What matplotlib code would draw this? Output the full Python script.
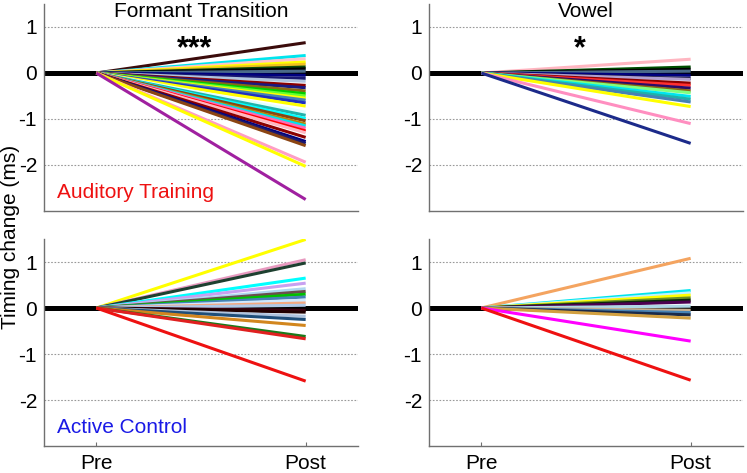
import matplotlib
matplotlib.use("Agg")
import matplotlib.pyplot as plt

plt.rcParams['font.family'] = ['Liberation Sans', 'DejaVu Sans']

sessions = ["Pre", "Post"]
x_pos = [1, 2]

# Post-training timing change (Pre is 0) for each subject
at_formant = [0.66, 0.38, 0.31, 0.24, 0.19, 0.13, 0.09, 0.04, -0.05, -0.12,
              -0.18, -0.27, -0.32, -0.39, -0.45, -0.50, -0.55, -0.59, -0.65,
              -0.72, -0.85, -0.92, -0.99, -1.04, -1.11, -1.15, -1.20, -1.26,
              -1.30, -1.40, -1.49, -1.53, -1.58, -1.94, -2.03, -2.75]
at_vowel = [0.30, 0.13, 0.08, 0.04, -0.05, -0.12, -0.14, -0.22, -0.27, -0.33,
            -0.39, -0.43, -0.51, -0.57, -0.63, -0.73, -1.10, -1.53]
ac_formant = [1.49, 1.05, 0.98, 0.65, 0.54, 0.42, 0.36, 0.30, 0.24, 0.17,
              0.11, 0.06, -0.05, -0.09, -0.18, -0.25, -0.38, -0.62, -0.67, -1.59]
ac_vowel = [1.08, 0.38, 0.33, 0.28, 0.22, 0.17, 0.13, 0.04, -0.05, -0.10,
            -0.15, -0.22, -0.72, -1.57]

titles = ["Formant Transition", "Vowel"]
group_labels = ["Auditory Training", "Active Control"]
sig_labels = ["***", "*"]
ylabel = "Timing change (ms)"
yticks = [-2, -1, 0, 1]

c_at_formant = ['#3b0b0b', '#00e5ee', '#ffc0cb', '#ffff00', '#f0c020', '#0a4a0a',
                '#000000', '#4a6a8a', '#000080', '#191970', '#b0c4de', '#8b0000',
                '#1a1a80', '#8b6914', '#00cd00', '#66ff33', '#ffff00', '#4682b4',
                '#2030c0', '#ffff00', '#e0ffff', '#20b2aa', '#00ffff', '#8b4513',
                '#b8860b', '#00e5ee', '#ff69b4', '#ff0000', '#ffb6c1', '#8b0000',
                '#000080', '#191970', '#8b4513', '#ff9ec4', '#ffff00', '#a020a0']
c_at_vowel = ['#ffb6c1', '#004d00', '#000000', '#4a6a8a', '#000080', '#1a1a40',
              '#b0a0d0', '#8b0000', '#ff3030', '#2a0a6a', '#8b6914', '#7fff7f',
              '#00e5ee', '#20b2aa', '#4682b4', '#ffff00', '#ff8ec0', '#1c2a8a']
c_ac_formant = ['#ffff00', '#e89ac0', '#1e4030', '#00ffff', '#c8a0f0', '#b0d8f0',
                '#6b4e4e', '#00c000', '#4682b4', '#d0e8ff', '#f4a880', '#b0c8e8',
                '#3b0010', '#200000', '#b0c4de', '#1f4e79', '#d2861e', '#1a7a1a',
                '#e02020', '#ee1111']
c_ac_vowel = ['#f4a460', '#00e5ee', '#c0f0ff', '#ffff00', '#6b8e23', '#0a2a0a',
              '#4b0050', '#add8e6', '#c8b090', '#4682b4', '#1a2a4a', '#d2a040',
              '#ff00ff', '#ee1111']

fig = plt.figure(figsize=(7.47, 4.73), dpi=100)
W, H = 747, 473
def axpos(x0, x1, y0, y1):
    return [x0 / W, (H - y1) / H, (x1 - x0) / W, (y1 - y0) / H]

axes = [[fig.add_axes(axpos(44, 358, 4, 211)), fig.add_axes(axpos(429, 743, 4, 211))],
        [fig.add_axes(axpos(44, 358, 239, 446)), fig.add_axes(axpos(429, 743, 239, 446))]]

data = [[at_formant, at_vowel], [ac_formant, ac_vowel]]
cols = [[c_at_formant, c_at_vowel], [c_ac_formant, c_ac_vowel]]
spine_col = '#707070'
FS = 15

for r in range(2):
    for c in range(2):
        ax = axes[r][c]
        ax.set_xlim(0.75, 2.25)
        ax.set_ylim(-3, 1.5)
        for yv in yticks:
            ax.axhline(yv, color='#999999', lw=0.8, ls=(0, (1.5, 1.5)), zorder=0)
        ax.axhline(0, color='black', lw=3.6, zorder=1)
        for v, col in zip(data[r][c], cols[r][c]):
            ax.plot(x_pos, [0, v], color=col, lw=2.2, solid_capstyle='butt', zorder=2)
        ax.spines['top'].set_visible(False)
        ax.spines['right'].set_visible(False)
        for s in ['left', 'bottom']:
            ax.spines[s].set_color(spine_col)
            ax.spines[s].set_linewidth(1.0)
        ax.set_yticks(yticks)
        ax.set_yticklabels([str(t) for t in yticks])
        ax.tick_params(axis='y', length=0, pad=5, labelsize=FS)
        ax.set_xticks(x_pos)
        if r == 1:
            ax.set_xticklabels(sessions)
            ax.tick_params(axis='x', direction='in', length=3, color=spine_col,
                           pad=6, labelsize=FS)
        else:
            ax.set_xticklabels([])
            ax.tick_params(axis='x', length=0)
        if r == 0:
            ax.text(0.5, 1.01, titles[c], transform=ax.transAxes, ha='center',
                    va='top', fontsize=FS)
            ax.text(1.47, 0.52, sig_labels[c], ha='center', va='center',
                    fontsize=22, fontweight='bold')
        if c == 0:
            ax.text(0.81, -2.6, group_labels[r], ha='left', va='center',
                    fontsize=FS, color='#ee1111' if r == 0 else '#1a1ae6')

fig.text(0.014, 0.5, ylabel, rotation=90, ha='center', va='center', fontsize=FS)

fig.savefig("out.png", dpi=100)
